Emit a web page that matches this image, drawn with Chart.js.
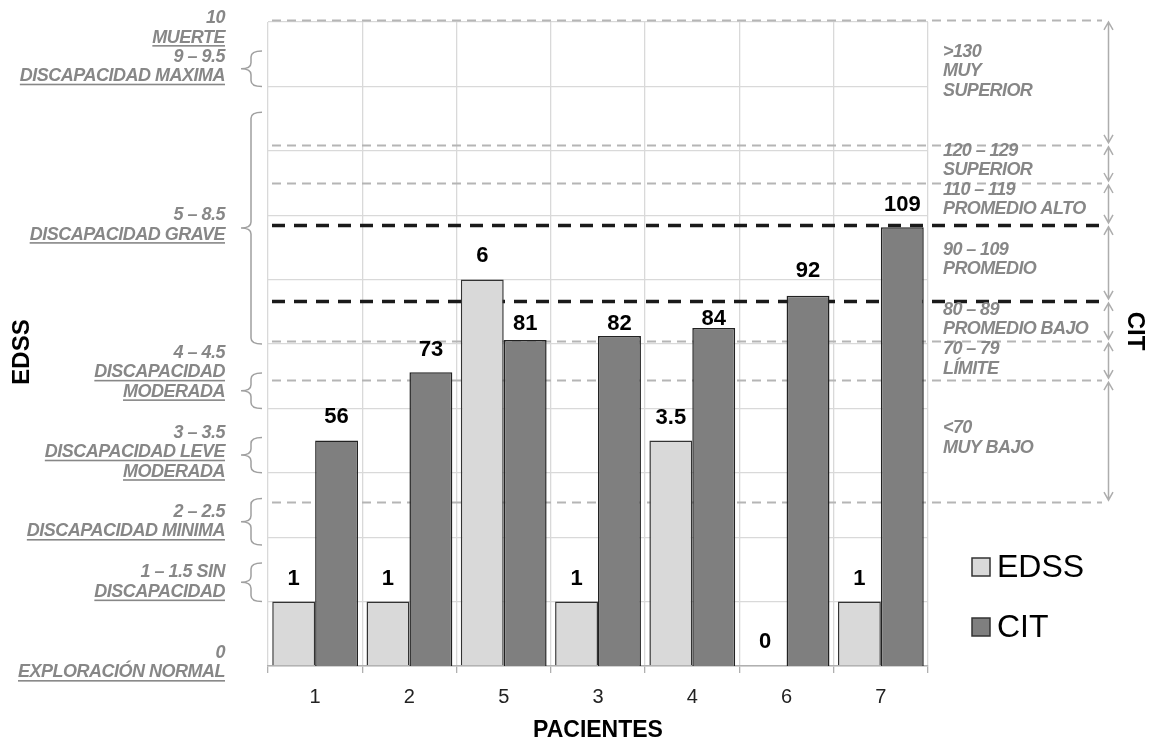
<!DOCTYPE html>
<html>
<head>
<meta charset="utf-8">
<script src="https://cdn.jsdelivr.net/npm/chart.js@4.4.0/dist/chart.umd.min.js"></script>
<style>
html,body{margin:0;padding:0;background:#fff;}
#wrap{width:1153px;height:744px;position:relative;}
</style>
</head>
<body>
<div id="wrap"><canvas id="c" width="1153" height="744"></canvas></div>
<script>
// ---------- DATA ----------
const patients = ['1', '2', '5', '3', '4', '6', '7'];
const edssValues = [1, 1, 6, 1, 3.5, 0, 1];
const citValues = [56, 73, 81, 82, 84, 92, 109];

// EDSS (left) category labels, their anchor value on the EDSS axis, and brace ranges
const edssGroupLines = [
  ['10', 'MUERTE'],
  ['9 – 9.5', 'DISCAPACIDAD MAXIMA'],
  ['5 – 8.5', 'DISCAPACIDAD GRAVE'],
  ['4 – 4.5', 'DISCAPACIDAD', 'MODERADA'],
  ['3 – 3.5', 'DISCAPACIDAD LEVE', 'MODERADA'],
  ['2 – 2.5', 'DISCAPACIDAD MINIMA'],
  ['1 – 1.5 SIN', 'DISCAPACIDAD'],
  ['0', 'EXPLORACIÓN NORMAL']
];
const edssGroupAnchors = [9.91, 9.31, 6.85, 4.56, 3.32, 2.24, 1.30, 0.05];
const edssBraceRanges = [[9, 9.55], [5, 8.6], [4, 4.55], [3, 3.55], [1.88, 2.6], [1, 1.6]];

// CIT (right) band boundaries and labels
const citBounds = [160.5, 129.5, 120, 109.6, 90.7, 80.7, 71, 40.7];
const citAverageBounds = [109.6, 90.7];
const citBandLines = [
  ['>130', 'MUY', 'SUPERIOR'],
  ['120 – 129', 'SUPERIOR'],
  ['110 – 119', 'PROMEDIO ALTO'],
  ['90 – 109', 'PROMEDIO'],
  ['80 – 89', 'PROMEDIO BAJO'],
  ['70 – 79', 'LÍMITE'],
  ['<70', 'MUY BAJO']
];

// ---------- STYLE ----------
const FONT = '"Liberation Sans", Arial, sans-serif';
const LABEL_GRAY = '#878787';
const bandTextOffsets = [32, 6, 7, 25, 9, 8, 48];   // px below band top line (first line centre)
const edssLabelOffsets = [23, 23, 24, 23, 23, 24, 23];
const citLabelOffsets = [24, 22, 16, 12, 9, 25, 22];

const deco = {
  id: 'deco',
  beforeDatasetsDraw(chart) {
    const ctx = chart.ctx, y1 = chart.scales.y1;
    ctx.save();
    citBounds.forEach(v => {
      const y = Math.round(y1.getPixelForValue(v)) + 0.5;
      const black = citAverageBounds.includes(v);
      ctx.beginPath();
      ctx.setLineDash(black ? [13, 9] : [9, 6]);
      ctx.lineWidth = black ? 3.5 : 2;
      ctx.strokeStyle = black ? '#1a1a1a' : '#b5b5b5';
      ctx.moveTo(272, y);
      ctx.lineTo(1102, y);
      ctx.stroke();
    });
    ctx.restore();
  },
  afterDatasetsDraw(chart) {
    const ctx = chart.ctx;
    ctx.save();
    ctx.font = 'bold 22px ' + FONT;
    ctx.fillStyle = '#000';
    ctx.textAlign = 'center';
    ctx.textBaseline = 'middle';
    [edssLabelOffsets, citLabelOffsets].forEach((offs, di) => {
      const meta = chart.getDatasetMeta(di);
      const vals = chart.data.datasets[di].data;
      meta.data.forEach((bar, i) => {
        ctx.fillText(String(vals[i]), bar.x, bar.y - offs[i]);
      });
    });
    ctx.restore();
  },
  afterDraw(chart) {
    const ctx = chart.ctx, y = chart.scales.y, y1 = chart.scales.y1;
    ctx.save();
    // Left labels
    ctx.font = 'italic bold 18px ' + FONT;
    ctx.letterSpacing = '-0.5px';
    ctx.fillStyle = LABEL_GRAY;
    ctx.strokeStyle = LABEL_GRAY;
    ctx.textAlign = 'right';
    ctx.textBaseline = 'middle';
    const LS = 19.5;
    edssGroupLines.forEach((lines, gi) => {
      const cy = y.getPixelForValue(edssGroupAnchors[gi]);
      const y0 = cy - (lines.length - 1) * LS / 2;
      lines.forEach((t, li) => {
        const ly = y0 + li * LS;
        ctx.fillText(t, 225, ly);
        if (li > 0) {
          const w = ctx.measureText(t).width;
          ctx.fillRect(225 - w, ly + 7.5, w, 1.6);
        }
      });
    });
    // Braces
    ctx.strokeStyle = '#a0a0a0';
    ctx.lineWidth = 1.5;
    edssBraceRanges.forEach(([lo, hi]) => {
      const yT = y.getPixelForValue(hi), yB = y.getPixelForValue(lo);
      const xs = 251, xt = 241, xe = 262, r = 6, ym = (yT + yB) / 2;
      ctx.beginPath();
      ctx.moveTo(xe, yT);
      ctx.quadraticCurveTo(xs, yT, xs, yT + r);
      ctx.lineTo(xs, ym - r);
      ctx.quadraticCurveTo(xs, ym, xt, ym);
      ctx.quadraticCurveTo(xs, ym, xs, ym + r);
      ctx.lineTo(xs, yB - r);
      ctx.quadraticCurveTo(xs, yB, xe, yB);
      ctx.stroke();
    });
    // Right labels
    ctx.font = 'italic bold 18px ' + FONT;
    ctx.letterSpacing = '-0.6px';
    ctx.fillStyle = LABEL_GRAY;
    ctx.textAlign = 'left';
    ctx.textBaseline = 'middle';
    citBandLines.forEach((lines, bi) => {
      const top = y1.getPixelForValue(citBounds[bi]);
      lines.forEach((t, li) => {
        ctx.fillText(t, 943, top + bandTextOffsets[bi] + li * LS);
      });
    });
    // Arrows
    ctx.letterSpacing = '0px';
    ctx.strokeStyle = '#adadad';
    ctx.lineWidth = 1.5;
    const ax = 1108.5;
    for (let i = 0; i < citBounds.length - 1; i++) {
      const a = y1.getPixelForValue(citBounds[i]) + 2;
      const b = y1.getPixelForValue(citBounds[i + 1]) - 2;
      ctx.beginPath();
      ctx.moveTo(ax, a); ctx.lineTo(ax, b);
      ctx.moveTo(ax - 4.5, a + 8); ctx.lineTo(ax, a); ctx.lineTo(ax + 4.5, a + 8);
      ctx.moveTo(ax - 4.5, b - 8); ctx.lineTo(ax, b); ctx.lineTo(ax + 4.5, b - 8);
      ctx.stroke();
    }
    // Axis titles
    ctx.fillStyle = '#000';
    ctx.font = 'bold 24px ' + FONT;
    ctx.textAlign = 'center';
    ctx.textBaseline = 'middle';
    ctx.save();
    ctx.translate(22, 352); ctx.rotate(-Math.PI / 2);
    ctx.fillText('EDSS', 0, 0);
    ctx.restore();
    ctx.save();
    ctx.translate(1135, 331); ctx.rotate(Math.PI / 2);
    ctx.fillText('CIT', 0, 0);
    ctx.restore();
    // Legend
    ctx.font = '32px ' + FONT;
    ctx.textAlign = 'left';
    chart.data.datasets.forEach((ds, i) => {
      const cy = 567 + i * 60;
      ctx.fillStyle = ds.backgroundColor;
      ctx.fillRect(972, cy - 9, 18, 18);
      ctx.strokeStyle = '#333';
      ctx.lineWidth = 1.5;
      ctx.strokeRect(972, cy - 9, 18, 18);
      ctx.fillStyle = '#000';
      ctx.fillText(ds.label, 997, cy + 1);
    });
    ctx.restore();
  }
};

new Chart(document.getElementById('c'), {
  type: 'bar',
  data: {
    labels: patients,
    datasets: [
      { label: 'EDSS', data: edssValues, yAxisID: 'y', backgroundColor: '#d9d9d9', borderColor: '#333', borderWidth: 1.5, borderSkipped: 'bottom', categoryPercentage: 0.91, barPercentage: 1 },
      { label: 'CIT', data: citValues, yAxisID: 'y1', backgroundColor: '#7f7f7f', borderColor: '#222', borderWidth: 1.5, borderSkipped: 'bottom', categoryPercentage: 0.91, barPercentage: 1 }
    ]
  },
  options: {
    responsive: false,
    animation: false,
    devicePixelRatio: 1,
    layout: { padding: { left: 268, right: 225, top: 22, bottom: 0 } },
    plugins: { legend: { display: false }, tooltip: { enabled: false } },
    scales: {
      x: {
        grid: { color: '#d9d9d9', lineWidth: 1.3, tickLength: 7, tickColor: '#b0b0b0', offset: true },
        border: { color: '#b0b0b0', width: 1.5 },
        ticks: { font: { family: FONT, size: 20 }, color: '#222', padding: 12 },
        title: { display: true, text: 'PACIENTES', font: { family: FONT, size: 23, weight: 'bold' }, color: '#000', padding: 0 },
        afterFit: s => { s.height = 78; }
      },
      y: {
        position: 'left', min: 0, max: 10,
        ticks: { display: false, stepSize: 1 },
        grid: { color: '#d9d9d9', lineWidth: 1.3, drawTicks: false },
        border: { display: false },
        afterFit: s => { s.width = 0; }
      },
      y1: { position: 'right', min: 0, max: 160, display: false }
    }
  },
  plugins: [deco]
});
</script>
</body>
</html>
